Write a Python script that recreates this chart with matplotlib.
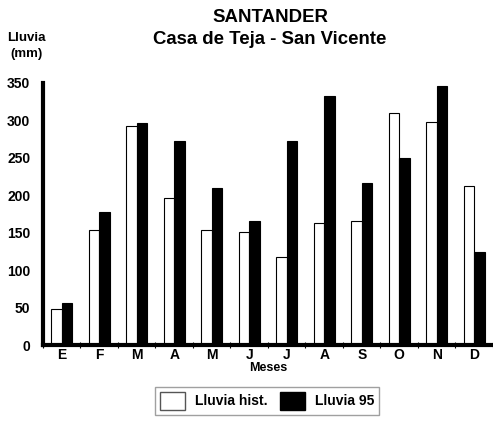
import numpy as np
import matplotlib.pyplot as plt
from matplotlib.patches import Patch

# Datos (mm de lluvia)
meses = ['E', 'F', 'M', 'A', 'M', 'J', 'J', 'A', 'S', 'O', 'N', 'D']
lluvia_hist = [48, 154, 293, 196, 153, 151, 117, 163, 165, 310, 298, 213]
lluvia_95 = [56, 178, 296, 272, 210, 166, 273, 332, 216, 250, 346, 124]

plt.rcParams['font.family'] = ['Liberation Sans', 'DejaVu Sans']
plt.rcParams['font.weight'] = 'bold'

fig = plt.figure(figsize=(4.93, 4.25), dpi=100)
ax = fig.add_axes([0.087, 0.188, 0.913, 0.617])

x = np.arange(len(meses))
ancho = 0.28
ax.bar(x - ancho / 2, lluvia_hist, ancho, color='white', edgecolor='black', linewidth=0.8)
ax.bar(x + ancho / 2, lluvia_95, ancho, color='black', edgecolor='black', linewidth=0.8)

ax.set_xlim(-0.5, 11.5)
ax.set_ylim(0, 350)
ax.set_yticks(range(0, 351, 50))
ax.set_yticklabels([str(v) for v in range(0, 351, 50)], fontsize=10, fontweight='bold')
ax.tick_params(axis='y', length=0, pad=9)

ax.set_xticks(x)
ax.set_xticklabels(meses, fontsize=10, fontweight='bold')
ax.set_xticks(np.arange(-0.5, 12, 1), minor=True)
ax.tick_params(axis='x', which='major', length=0, pad=2)
ax.tick_params(axis='x', which='minor', length=4, direction='inout', width=0.8)
ax.set_xlabel('Meses', fontsize=9, fontweight='bold', labelpad=0)

for lado in ['top', 'right']:
    ax.spines[lado].set_visible(False)
ax.spines['left'].set_linewidth(3)
ax.spines['bottom'].set_linewidth(3)

fig.text(0.548, 0.958, 'SANTANDER', ha='center', va='center', fontsize=13.4, fontweight='bold')
fig.text(0.548, 0.908, 'Casa de Teja - San Vicente', ha='center', va='center', fontsize=13.4, fontweight='bold')
fig.text(0.053, 0.892, 'Lluvia\n(mm)', ha='center', va='center', fontsize=9.5, fontweight='bold', linespacing=1.5)

handles = [Patch(facecolor='white', edgecolor='#555555', label='Lluvia hist.'),
           Patch(facecolor='black', edgecolor='black', label='Lluvia 95')]
fig.legend(handles=handles, loc='center', bbox_to_anchor=(0.542, 0.057), ncol=2,
           fancybox=False, edgecolor='#888888', fontsize=10, handlelength=1.8,
           handleheight=1.6, columnspacing=0.9, handletextpad=0.7, borderpad=0.35,
           borderaxespad=0)

fig.savefig('out.png', dpi=100)
